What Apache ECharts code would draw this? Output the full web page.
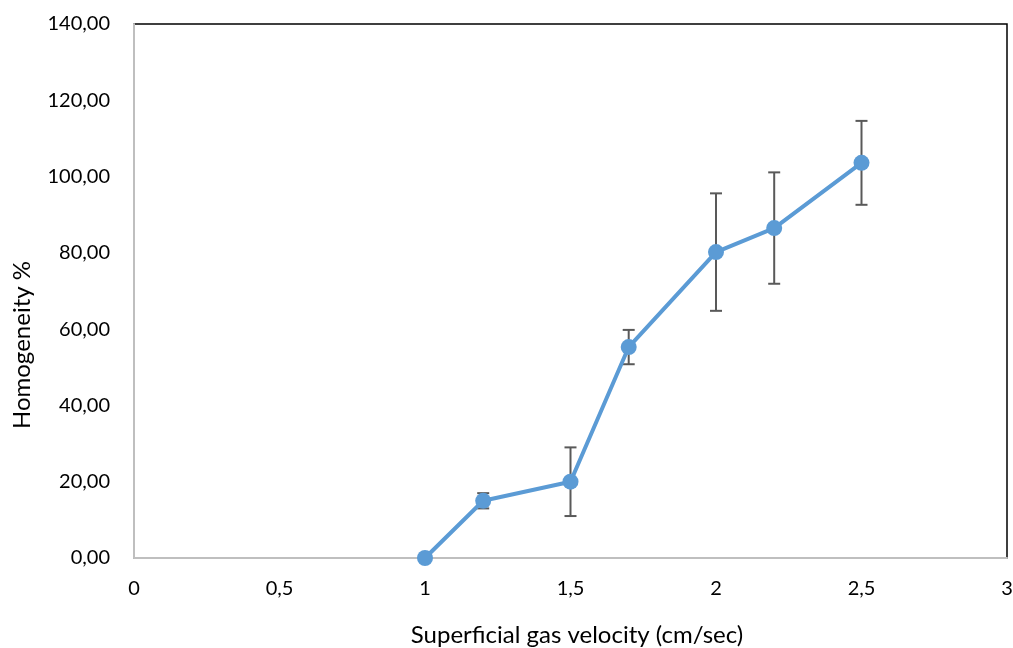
<!DOCTYPE html>
<html lang="en">
  <head>
    <meta charset="UTF-8" />
    <title>Homogeneity</title>
    <script src="https://cdn.jsdelivr.net/npm/echarts@6/dist/echarts.min.js"></script>
    <style>
      html, body { margin: 0; padding: 0; background: #fff; }
      #main { width: 1013px; height: 648px; }
    </style>
  </head>
  <body>
    <div id="main"></div>
    <script>
      // superficial gas velocity (cm/sec)
      const velocity = [1, 1.2, 1.5, 1.7, 2, 2.2, 2.5];
      // homogeneity %
      const homogeneity = [0, 15, 20, 55.3, 80.2, 86.5, 103.6];
      // error bar half-width
      const errors = [0, 2, 9, 4.5, 15.4, 14.6, 11];

      const fmt = (v) => String(v).replace(".", ",");

      const errData = velocity.map((x, i) => [
        x,
        homogeneity[i] - errors[i],
        homogeneity[i] + errors[i],
      ]);

      const chart = echarts.init(document.getElementById("main"));
      chart.setOption({
        animation: false,
        textStyle: { fontFamily: "Lato" },
        grid: {
          left: 134,
          right: 6,
          top: 24,
          bottom: 90,
          outerBoundsMode: "none",
          show: true,
          borderColor: "#000",
          borderWidth: 1.5,
        },
        graphic: [
          {
            type: "text",
            x: 22,
            y: 345,
            rotation: Math.PI / 2,
            style: {
              text: "Homogeneity %",
              font: "24px Lato",
              fill: "#000",
              align: "center",
              verticalAlign: "middle",
            },
          },
          {
            type: "text",
            x: 577,
            y: 635,
            style: {
              text: "Superficial gas velocity (cm/sec)",
              font: "24px Lato",
              fill: "#000",
              align: "center",
              verticalAlign: "middle",
            },
          },
        ],
        xAxis: {
          type: "value",
          min: 0,
          max: 3,
          interval: 0.5,
          axisLine: { lineStyle: { color: "#BFBFBF", width: 2 } },
          axisTick: { show: false },
          splitLine: { show: false },
          axisLabel: {
            fontSize: 20,
            color: "#000",
            margin: 21,
            formatter: (v) => fmt(v),
          },
        },
        yAxis: {
          type: "value",
          min: 0,
          max: 140,
          interval: 20,
          axisLine: { show: true, lineStyle: { color: "#BFBFBF", width: 2 } },
          axisTick: { show: false },
          splitLine: { show: false },
          axisLabel: {
            fontSize: 20,
            color: "#000",
            margin: 24,
            formatter: (v) => v.toFixed(2).replace(".", ","),
          },
        },
        series: [
          {
            type: "custom",
            z: 1,
            data: errData,
            renderItem: (params, api) => {
              const x = api.value(0);
              const lo = api.coord([x, api.value(1)]);
              const hi = api.coord([x, api.value(2)]);
              const w = 6;
              const style = { stroke: "#595959", lineWidth: 2 };
              return {
                type: "group",
                children: [
                  { type: "line", shape: { x1: lo[0], y1: lo[1], x2: hi[0], y2: hi[1] }, style },
                  { type: "line", shape: { x1: lo[0] - w, y1: lo[1], x2: lo[0] + w, y2: lo[1] }, style },
                  { type: "line", shape: { x1: hi[0] - w, y1: hi[1], x2: hi[0] + w, y2: hi[1] }, style },
                ],
              };
            },
          },
          {
            type: "line",
            z: 3,
            data: velocity.map((x, i) => [x, homogeneity[i]]),
            symbol: "circle",
            symbolSize: 16,
            itemStyle: { color: "#5B9BD5" },
            lineStyle: { color: "#5B9BD5", width: 4 },
          },
        ],
      });
    </script>
  </body>
</html>
